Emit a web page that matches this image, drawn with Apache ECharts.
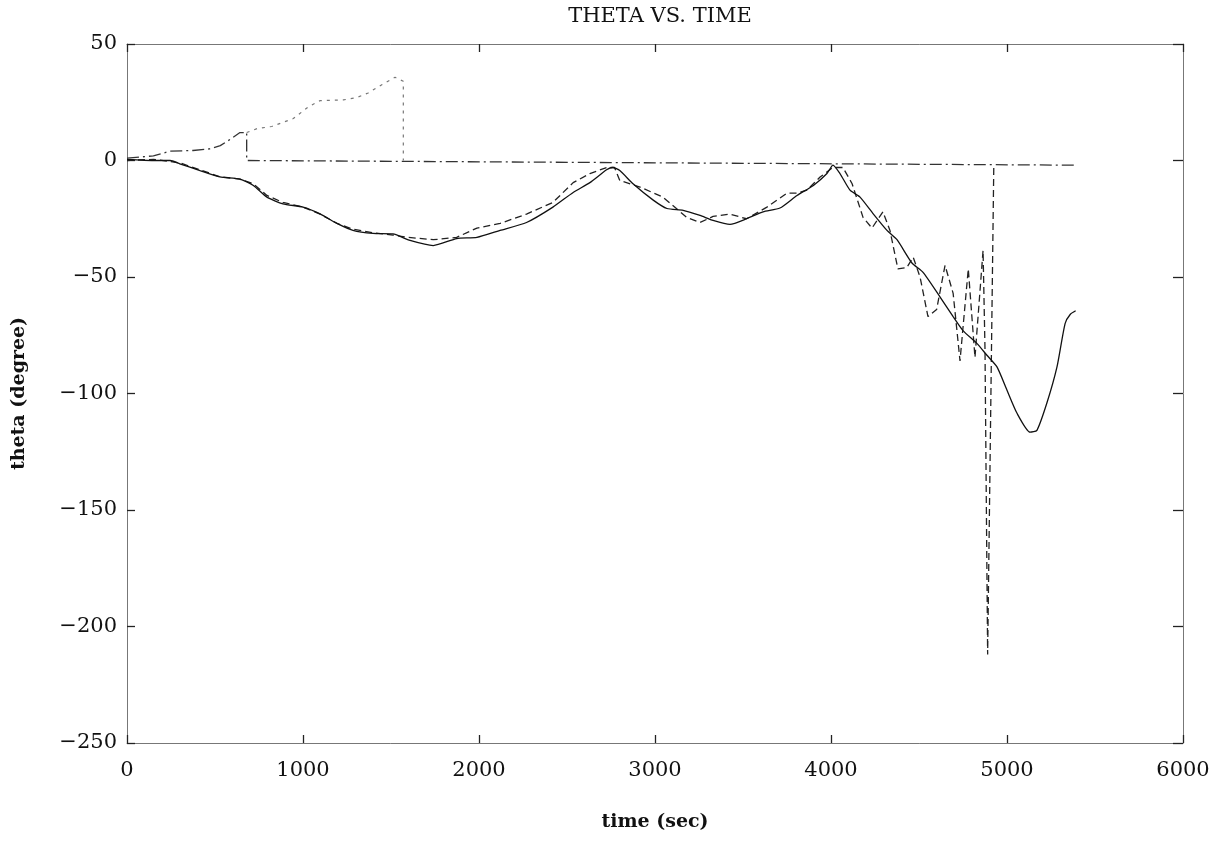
<!DOCTYPE html>
<html>
<head>
<meta charset="utf-8">
<script src="https://cdn.jsdelivr.net/npm/echarts@6/dist/echarts.min.js"></script>
<style>
html,body{margin:0;padding:0;background:#fff;}
#chart{width:1216px;height:857px;}
</style>
</head>
<body>
<div id="chart"></div>
<script>
// ---- data ----
const titleText = 'THETA VS. TIME';
const xName = 'time (sec)';
const yName = 'theta (degree)';
const xTicks = [0, 1000, 2000, 3000, 4000, 5000, 6000];
const yTicks = [50, 0, -50, -100, -150, -200, -250];

// solid curve
const solidTime  = [0,150,245,300,415,528,642,718,795,886,1000,1097,1193,1284,1398,1511,1608,1740,1873,1988,2120,2270,2420,2535,2630,2725,2760,2800,2875,2990,3068,3160,3256,3330,3426,3520,3614,3710,3807,3900,3977,4011,4051,4108,4165,4240,4318,4375,4460,4523,4620,4694,4750,4830,4886,4943,5000,5057,5131,5170,5227,5284,5330,5360,5390];
const solidTheta = [0.5,0,0,-1.4,-4.3,-7,-8,-10.7,-15.7,-18.6,-20,-22.9,-27,-30,-31.3,-31.5,-34.3,-36.5,-33.5,-33,-30,-26.6,-20,-13.7,-9.5,-4,-3,-4.3,-10,-17,-20.6,-21.4,-23.6,-25.7,-27.4,-25,-22,-20.4,-15,-10.7,-5.6,-2,-5.6,-12.7,-15.7,-22.9,-30,-34,-44,-48,-58.6,-67,-73,-78.6,-83.6,-88.6,-98.6,-108.5,-116.6,-115.8,-104,-88.6,-70,-66,-64.5];

// dashed curve
const dashTime  = [0,150,300,415,528,642,718,795,886,1000,1097,1193,1284,1398,1511,1600,1740,1873,1988,2120,2270,2420,2535,2630,2725,2770,2800,2915,3045,3180,3256,3330,3426,3520,3636,3750,3807,3864,3938,4011,4068,4120,4182,4233,4295,4335,4380,4430,4467,4506,4551,4600,4648,4694,4733,4780,4818,4864,4875,4890,4925];
const dashTheta = [0,0.5,-1,-4,-7,-8,-10,-15,-18,-20,-23,-27,-29.5,-31,-32,-33,-34,-33,-29,-27,-23,-18,-9.5,-5.6,-3,-3,-8.6,-11.4,-15.7,-24.4,-26.6,-24,-23,-25,-20,-14,-14,-12.7,-7.1,-3,-3,-10,-24.4,-29,-22,-30,-46.5,-46,-41.5,-50,-67,-64,-45,-57,-86,-46.5,-84.5,-38.6,-81,-212,-2];

// dash-dot curve (rise, drop, then zero line)
const dashDotTime  = [0,150,245,375,470,530,585,642,680,680,5390];
const dashDotTheta = [1,2,4,4.3,5,6.4,9,12,12,0,-2];

// dotted curve (upper branch)
const dotTime  = [680,740,823,945,1030,1097,1230,1306,1370,1450,1523,1570,1570];
const dotTheta = [12,13.7,14.6,18,23,25.7,26,27,29,32.6,35.7,34,0];

function zip(a, b) { return a.map((v, i) => [v, b[i]]); }

const serif = '"DejaVu Serif", "Liberation Serif", serif';
const minus = v => String(v).replace('-', '\u2212');
const plain = v => String(v);

const chart = echarts.init(document.getElementById('chart'), null, {renderer: 'canvas'});

function tick(len) {
  return {show: true, inside: true, length: len, lineStyle: {color: '#222', width: 1.3}};
}
const axisLine = {show: true, onZero: false, lineStyle: {color: '#777', width: 1}};

chart.setOption({
  backgroundColor: '#ffffff',
  animation: false,
  title: {
    text: titleText,
    left: 655,
    top: 1,
    textAlign: 'center',
    textStyle: {fontFamily: serif, fontSize: 21, fontWeight: 'normal', color: '#111'}
  },
  grid: {left: 127, right: 33, top: 44, bottom: 114, show: false},
  xAxis: [{
    type: 'value', min: xTicks[0], max: xTicks[xTicks.length - 1], interval: 1000,
    position: 'bottom',
    name: xName, nameLocation: 'middle', nameGap: 70,
    nameTextStyle: {fontFamily: serif, fontSize: 19, fontWeight: 'bold', color: '#111'},
    axisLine: axisLine,
    axisTick: tick(8),
    axisLabel: {fontFamily: serif, fontSize: 21, color: '#111', margin: 17, formatter: plain},
    splitLine: {show: false}
  }, {
    type: 'value', min: xTicks[0], max: xTicks[xTicks.length - 1], interval: 1000,
    position: 'top',
    axisLine: axisLine,
    axisTick: tick(8),
    axisLabel: {show: false},
    splitLine: {show: false}
  }],
  yAxis: [{
    type: 'value', min: yTicks[yTicks.length - 1], max: yTicks[0], interval: 50,
    position: 'left',
    name: yName, nameLocation: 'middle', nameGap: 98, nameRotate: 90,
    nameTextStyle: {fontFamily: serif, fontSize: 19, fontWeight: 'bold', color: '#111'},
    axisLine: axisLine,
    axisTick: tick(8),
    axisLabel: {fontFamily: serif, fontSize: 21, color: '#111', margin: 10, formatter: minus},
    splitLine: {show: false}
  }, {
    type: 'value', min: yTicks[yTicks.length - 1], max: yTicks[0], interval: 50,
    position: 'right',
    axisLine: axisLine,
    axisTick: tick(10),
    axisLabel: {show: false},
    splitLine: {show: false}
  }],
  series: [
    {
      name: 'dash-dot', type: 'line', xAxisIndex: 0, yAxisIndex: 0,
      data: zip(dashDotTime, dashDotTheta), showSymbol: false, smooth: false,
      lineStyle: {color: '#333', width: 1.3, type: [12, 4, 2, 4]}
    },
    {
      name: 'dotted', type: 'line', xAxisIndex: 0, yAxisIndex: 0,
      data: zip(dotTime, dotTheta), showSymbol: false, smooth: false,
      lineStyle: {color: '#777', width: 1.2, type: [3, 5]}
    },
    {
      name: 'dashed', type: 'line', xAxisIndex: 0, yAxisIndex: 0,
      data: zip(dashTime, dashTheta), showSymbol: false, smooth: false,
      lineStyle: {color: '#222', width: 1.3, type: [7, 4]}
    },
    {
      name: 'solid', type: 'line', xAxisIndex: 0, yAxisIndex: 0,
      data: zip(solidTime, solidTheta), showSymbol: false, smooth: 0.2,
      lineStyle: {color: '#111', width: 1.3, type: 'solid'}
    }
  ]
});
</script>
</body>
</html>
